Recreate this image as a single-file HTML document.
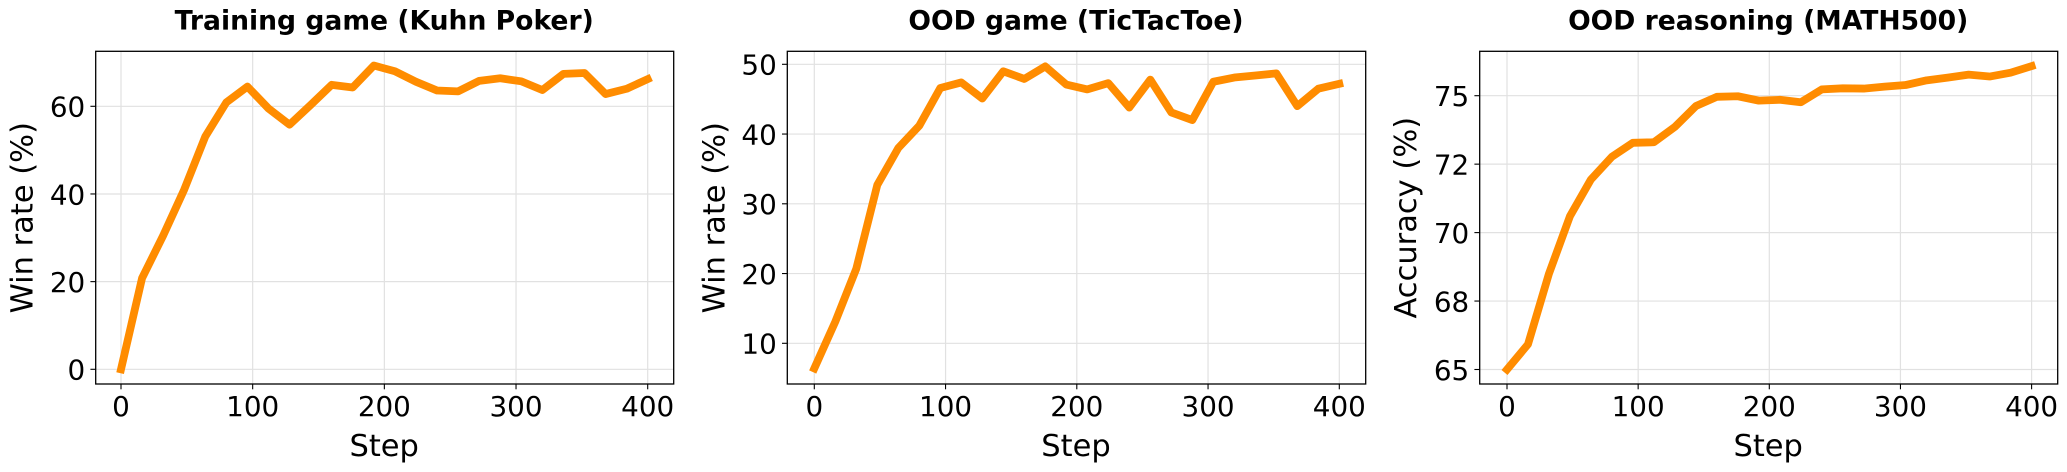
<!DOCTYPE html>
<html lang="en">
<head>
<meta charset="utf-8">
<title>Training and OOD performance</title>
<style>
html,body{margin:0;padding:0;background:#fff;}
body{width:2067px;height:472px;overflow:hidden;}
svg{display:block;}
text{font-family:"DejaVu Sans","Liberation Sans",sans-serif;fill:#000;}
</style>
</head>
<body>
<svg id="figure" width="2067" height="472" viewBox="0 0 2067 472" xmlns="http://www.w3.org/2000/svg"></svg>
<script>
const steps = [0,16,32,48,64,80,96,112,128,144,160,176,192,208,224,240,256,272,288,304,320,336,352,368,384,400];
const xTicks = [0,100,200,300,400];

const kuhnValues = [0,20.8,30.5,41,53.1,60.9,64.5,59.5,55.8,60.3,64.9,64.3,69.3,68,65.6,63.6,63.4,65.8,66.4,65.7,63.7,67.4,67.6,62.8,64,66.2];
const kuhnTicks = [0,20,40,60];
const kuhnTickLabels = ['0','20','40','60'];

const ticTacToeValues = [6.4,13.1,20.7,32.7,38,41.2,46.6,47.4,45.1,49,47.9,49.7,47.1,46.4,47.3,43.8,47.8,43.1,42,47.5,48.1,48.4,48.7,44,46.5,47.2];
const ticTacToeTicks = [10,20,30,40,50];
const ticTacToeTickLabels = ['10','20','30','40','50'];

const mathValues = [65,65.92,68.5,70.6,71.94,72.77,73.28,73.3,73.86,74.62,74.96,74.98,74.82,74.85,74.76,75.23,75.27,75.26,75.33,75.39,75.56,75.66,75.77,75.7,75.84,76.08];
const mathTicks = [65,67.5,70,72.5,75];
const mathTickLabels = ['65','68','70','72','75'];

const NS = 'http://www.w3.org/2000/svg';
const figure = document.getElementById('figure');
const TOP = 51.3, BOTTOM = 384;

function make(parent, tag, attrs, text) {
  const el = document.createElementNS(NS, tag);
  for (const k in attrs) el.setAttribute(k, attrs[k]);
  if (text !== undefined) el.textContent = text;
  parent.appendChild(el);
  return el;
}

function drawPanel(cfg) {
  const g = make(figure, 'g', {});
  
  

  const xScale = v => cfg.x0 + v * (cfg.x400 - cfg.x0) / 400;
  const yScale = v => cfg.yA + (v - cfg.vA) * (cfg.yB - cfg.yA) / (cfg.vB - cfg.vA);

  xTicks.forEach(t => {
    const grid = make(g, 'line', {x1:xScale(t), x2:xScale(t), y1:TOP, y2:BOTTOM, stroke:'#e1e1e1', 'stroke-width':1.2});
    
    
  });
  cfg.ticks.forEach(t => {
    const grid = make(g, 'line', {x1:cfg.left, x2:cfg.right, y1:yScale(t), y2:yScale(t), stroke:'#e1e1e1', 'stroke-width':1.2});
    
    
  });

  const pts = steps.map((s, i) => xScale(s).toFixed(2) + ',' + yScale(cfg.values[i]).toFixed(2)).join(' ');
  const series = make(g, 'polyline', {points:pts, fill:'none', stroke:'#ff8c00', 'stroke-width':7.8, 'stroke-linejoin':'round', 'stroke-linecap':'square'});
  
  

  const frame = make(g, 'rect', {x:cfg.left, y:TOP, width:cfg.right - cfg.left, height:BOTTOM - TOP, fill:'none', stroke:'#000', 'stroke-width':1.3});
  
  

  xTicks.forEach(t => {
    const mark = make(g, 'line', {x1:xScale(t), x2:xScale(t), y1:BOTTOM, y2:BOTTOM + 5.3, stroke:'#000', 'stroke-width':1.1});
    
    
    const label = make(g, 'text', {x:xScale(t), y:416, 'text-anchor':'middle', 'font-size':27.8}, String(t));
    
    
  });
  cfg.ticks.forEach((t, i) => {
    const mark = make(g, 'line', {x1:cfg.left - 5.3, x2:cfg.left, y1:yScale(t), y2:yScale(t), stroke:'#000', 'stroke-width':1.1});
    
    
    const label = make(g, 'text', {x:cfg.left - 10.5, y:yScale(t) + 10.3, 'text-anchor':'end', 'font-size':27.8}, cfg.labels[i]);
    
    
  });

  const midX = (cfg.left + cfg.right) / 2 - 0.5;
  const title = make(g, 'text', {x:midX, y:29.5, 'text-anchor':'middle', 'font-size':26.6, 'font-weight':'bold'}, cfg.title);
  
  

  const xTitle = make(g, 'text', {x:midX, y:456, 'text-anchor':'middle', 'font-size':30.5}, 'Step');
  
  

  const midY = (TOP + BOTTOM) / 2;
  const yTitle = make(g, 'text', {x:cfg.yTitleX, y:midY, 'text-anchor':'middle', 'font-size':30.5, transform:'rotate(-90 ' + cfg.yTitleX + ' ' + midY + ')'}, cfg.yTitle);
  
  
}

drawPanel({slug:'kuhn-poker', title:'Training game (Kuhn Poker)', yTitle:'Win rate (%)', values:kuhnValues, ticks:kuhnTicks, labels:kuhnTickLabels,
  left:95.7, right:673.7, x0:121, x400:647.7, vA:0, yA:369.3, vB:60, yB:106.3, yTitleX:32.7});
drawPanel({slug:'tictactoe', title:'OOD game (TicTacToe)', yTitle:'Win rate (%)', values:ticTacToeValues, ticks:ticTacToeTicks, labels:ticTacToeTickLabels,
  left:787.3, right:1365.7, x0:814.3, x400:1339.3, vA:10, yA:343.3, vB:50, yB:64.3, yTitleX:724.5});
drawPanel({slug:'math500', title:'OOD reasoning (MATH500)', yTitle:'Accuracy (%)', values:mathValues, ticks:mathTicks, labels:mathTickLabels,
  left:1479.7, right:2057.7, x0:1507, x400:2031.6, vA:65, yA:369.5, vB:75, yB:95.7, yTitleX:1416});
</script>
</body>
</html>
